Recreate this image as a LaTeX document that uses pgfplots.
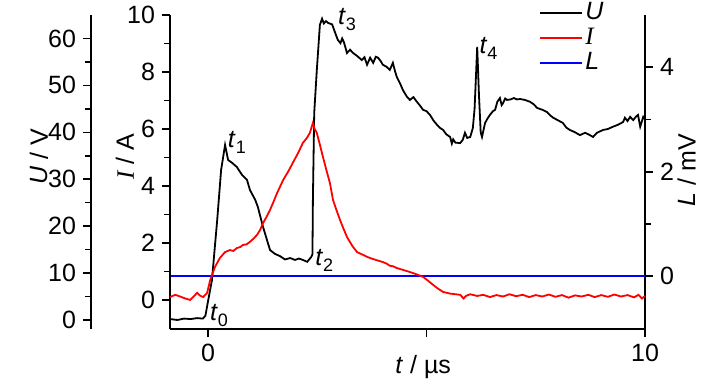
\documentclass[border=0pt]{standalone}
\usepackage{fontspec}
\setmainfont{Liberation Sans}
\newfontfamily\seriffont{Liberation Serif}
\usepackage{pgfplots}
\pgfplotsset{compat=1.18}
\newcommand{\tlab}[1]{\textit{t}\raisebox{-0.45ex}{\fontsize{9}{10}\selectfont #1}}
\begin{document}
\begin{tikzpicture}
\useasboundingbox (0pt,0pt) rectangle (363.5pt,195pt);
\pgfplotsset{
  every axis/.append style={
    font=\fontsize{12.5}{15}\selectfont,
    scale only axis,
    /pgf/number format/assume math mode=true,
    axis line style={line width=0.9pt, black},
    major tick length=4pt, minor tick length=3pt,
    every tick/.style={line width=0.8pt, black},
    tick align=outside,
    anchor=south west,
  },
}
% ---- U data (drawn first, below labels) ----
\begin{axis}[
  at={(85pt,30.5pt)}, width=237.5pt, height=157pt,
  xmin=-0.87, xmax=10, ymin=-1.92, ymax=65.0,
  hide axis,
]
\addplot[black, line width=0.9pt] coordinates {
(-0.87,0.2) (-0.7,0.0) (-0.55,0.3) (-0.4,0.2) (-0.25,0.4) (-0.12,0.3) (-0.06,0.9)
(0.0,4.0) (0.09,8.5) (0.21,21.3) (0.30,32.0) (0.39,37.3) (0.46,34.1) (0.55,33.5)
(0.66,32.6) (0.78,30.9) (0.89,29.9) (0.96,27.7) (1.08,25.6) (1.14,24.1) (1.26,19.8)
(1.37,16.4) (1.42,14.9) (1.53,14.1) (1.65,13.6) (1.76,12.9) (1.88,13.2) (1.99,12.8)
(2.08,13.1) (2.17,12.8) (2.27,12.4) (2.36,13.4) (2.39,14.0) (2.40,25.6) (2.43,44.1)
(2.49,53.3) (2.56,62.9) (2.61,64.2) (2.65,63.2) (2.70,63.7) (2.75,63.3) (2.84,63.0)
(2.91,61.2) (2.97,59.7) (3.03,59.0) (3.07,60.0) (3.11,59.2) (3.18,56.9) (3.25,57.6)
(3.32,56.9) (3.42,56.2) (3.52,55.4) (3.58,56.0) (3.64,54.4) (3.71,55.9) (3.78,54.8)
(3.84,56.1) (3.89,55.9) (3.95,55.2) (4.00,54.4) (4.08,54.0) (4.16,53.3) (4.23,54.8)
(4.28,53.0) (4.32,51.8) (4.40,50.3) (4.46,49.0) (4.55,47.6) (4.62,46.9) (4.70,47.5)
(4.78,46.5) (4.85,45.7) (4.92,44.8) (5.00,44.5) (5.08,43.7) (5.16,42.5) (5.24,41.6)
(5.30,41.0) (5.38,40.5) (5.45,39.6) (5.54,39.0) (5.58,37.6) (5.61,38.5) (5.66,37.8)
(5.77,37.7) (5.83,38.4) (5.88,39.9) (5.93,38.8) (6.00,39.0) (6.06,40.9) (6.10,45.0)
(6.16,58.2) (6.20,48.0) (6.24,40.0) (6.27,39.0) (6.34,42.0) (6.40,43.0) (6.45,43.7)
(6.52,44.5) (6.57,44.8) (6.62,46.5) (6.68,47.3) (6.72,45.8) (6.75,46.2) (6.80,47.2)
(6.84,46.9) (6.92,47.0) (7.00,47.3) (7.07,47.0) (7.14,47.1) (7.25,46.9) (7.37,46.5)
(7.45,46.0) (7.53,45.2) (7.65,44.8) (7.76,44.3) (7.83,43.6) (7.90,43.1) (8.00,42.6)
(8.12,42.0) (8.20,41.0) (8.28,40.5) (8.40,40.0) (8.51,39.4) (8.63,39.9) (8.72,39.5)
(8.81,39.0) (8.90,39.9) (9.04,40.5) (9.15,40.7) (9.27,41.2) (9.38,41.6) (9.50,42.2)
(9.54,43.1) (9.60,42.4) (9.66,43.3) (9.73,42.6) (9.80,43.4) (9.84,43.7) (9.89,41.2)
(9.96,43.3) (10.0,42.8)
};
\end{axis}
% ---- L axis (right) ----
\begin{axis}[
  at={(85pt,30.5pt)}, width=237.5pt, height=157pt,
  xmin=-0.87, xmax=10, ymin=-1.01, ymax=5.0,
  axis x line=none, axis y line*=right,
  ytick={0,2,4}, minor ytick={1,3},
  ylabel={\textit{L} / mV},
  every axis y label/.style={at={(axis description cs:1.088,0.506)}, anchor=center, rotate=90},
]
\addplot[blue, line width=0.9pt] coordinates {(-0.87,0) (10,0)};
\end{axis}
% ---- I axis (main, left) ----
\begin{axis}[
  at={(85pt,30.5pt)}, width=237.5pt, height=157pt,
  xmin=-0.87, xmax=10, ymin=-1.02, ymax=10,
  clip=false,
  axis x line*=bottom, axis y line*=left,
  xtick={0,5,10}, xticklabels={0,,10},
  ytick={0,2,...,10}, minor ytick={1,3,...,9},
  xlabel={\textit{t} / µs}, ylabel={{\seriffont\itshape I} / A},
  every axis x label/.style={at={(axis description cs:0.533,-0.122)}, anchor=center},
  every axis y label/.style={at={(axis description cs:-0.095,0.548)}, anchor=center, rotate=90},
  legend style={draw=none, fill=none, at={(axis description cs:0.777,1.047)}, anchor=north west,
    inner sep=0pt, row sep=0.5pt,
    nodes={text height=8.5pt, text depth=1.5pt, inner sep=1pt, anchor=west}},
  legend cell align=left,
  legend image code/.code={\draw[#1] (0pt,0pt) -- (21pt,0pt);},
]
\addlegendimage{black, line width=0.9pt}
\addlegendentry{\textit{U}}
\addlegendimage{red, line width=0.9pt}
\addlegendentry{{\seriffont\itshape I}}
\addlegendimage{blue, line width=0.9pt}
\addlegendentry{\textit{L}}
\addplot[red, line width=0.9pt, forget plot] coordinates {
(-0.87,0.10) (-0.75,0.18) (-0.64,0.12) (-0.52,0.05) (-0.41,0.0) (-0.33,0.12)
(-0.25,0.25) (-0.18,0.15) (-0.11,0.10) (-0.02,0.25) (0.05,0.70) (0.16,1.16)
(0.27,1.47) (0.39,1.68) (0.50,1.75) (0.58,1.72) (0.66,1.82) (0.74,1.86)
(0.80,1.93) (0.88,1.95) (0.96,2.04) (1.04,2.15) (1.12,2.28) (1.19,2.45)
(1.26,2.70) (1.34,2.92) (1.42,3.16) (1.50,3.45) (1.58,3.75) (1.65,3.98)
(1.72,4.21) (1.84,4.52) (1.95,4.84) (2.06,5.15) (2.17,5.51) (2.26,5.68)
(2.33,5.86) (2.40,6.21) (2.44,6.00) (2.49,5.86) (2.56,5.45) (2.63,5.02)
(2.71,4.55) (2.79,4.10) (2.86,3.51) (2.94,3.15) (3.02,2.81) (3.10,2.50)
(3.18,2.21) (3.30,1.90) (3.41,1.68) (3.55,1.58) (3.63,1.52) (3.71,1.47) (3.85,1.40)
(4.00,1.33) (4.08,1.28) (4.16,1.20) (4.24,1.18) (4.32,1.12) (4.47,1.05) (4.62,0.98)
(4.77,0.90) (4.92,0.81) (5.03,0.68) (5.15,0.53) (5.26,0.40) (5.38,0.28)
(5.55,0.22) (5.77,0.18) (5.85,0.05) (5.90,0.14) (6.00,0.20) (6.16,0.14)
(6.30,0.18) (6.45,0.10) (6.60,0.17) (6.75,0.12) (6.90,0.20) (7.05,0.13)
(7.20,0.18) (7.35,0.10) (7.50,0.17) (7.65,0.12) (7.80,0.19) (7.95,0.11)
(8.10,0.17) (8.25,0.08) (8.40,0.16) (8.55,0.12) (8.70,0.18) (8.85,0.10)
(9.00,0.17) (9.15,0.11) (9.30,0.19) (9.45,0.12) (9.60,0.17) (9.75,0.09)
(9.85,0.18) (9.93,0.05) (10.0,0.14)
};
\node[anchor=center] at (axis cs:0.25,-0.56) {\tlab{0}};
\node[anchor=center] at (axis cs:0.66,5.54) {\tlab{1}};
\node[anchor=center] at (axis cs:2.66,1.40) {\tlab{2}};
\node[anchor=center] at (axis cs:3.18,9.85) {\tlab{3}};
\node[anchor=center] at (axis cs:6.42,8.84) {\tlab{4}};
\end{axis}
% ---- U scale (offset left axis) ----
\begin{axis}[
  at={(45.5pt,30.5pt)}, width=10pt, height=157pt,
  xmin=0, xmax=1, ymin=-1.92, ymax=65.0,
  axis x line=none, axis y line*=left,
  ytick={0,10,...,60}, minor ytick={5,15,...,55},
  ylabel={\textit{U} / V},
  every axis y label/.style={at={(axis description cs:-2.6,0.548)}, anchor=center, rotate=90},
]
\addplot[draw=none] coordinates {(0,0)};
\end{axis}
\end{tikzpicture}
\end{document}
